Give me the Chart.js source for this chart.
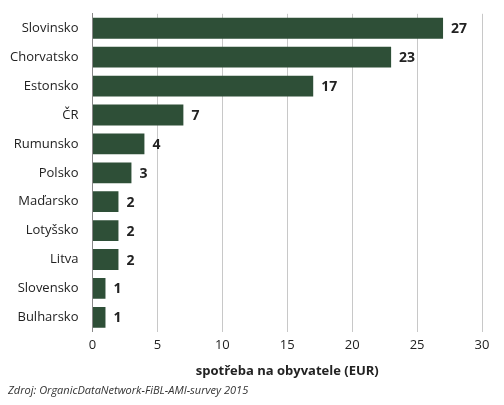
<!DOCTYPE html>
<html>
<head>
<meta charset="utf-8">
<script src="https://cdn.jsdelivr.net/npm/chart.js@4"></script>
<style>
  body { margin: 0; background: #fff; }
  #wrap { width: 504px; height: 405px; position: relative; }
</style>
</head>
<body>
<div id="wrap"><canvas id="c"></canvas></div>
<script>
var countries = ['Slovinsko', 'Chorvatsko', 'Estonsko', 'ČR', 'Rumunsko', 'Polsko',
  'Maďarsko', 'Lotyšsko', 'Litva', 'Slovensko', 'Bulharsko'];
var spending = [27, 23, 17, 7, 4, 3, 2, 2, 2, 1, 1];
var xTicks = [0, 5, 10, 15, 20, 25, 30];

// value labels next to bars + source line at the bottom
var extras = {
  id: 'extras',
  afterDatasetsDraw: function (chart) {
    var ctx = chart.ctx;
    var meta = chart.getDatasetMeta(0);
    ctx.save();
    ctx.fillStyle = '#222';
    ctx.font = 'bold 14px "Open Sans"';
    ctx.textBaseline = 'middle';
    meta.data.forEach(function (bar, i) {
      ctx.fillText(spending[i], bar.x + 8, bar.y + 1);
    });
    ctx.font = 'italic 11px "Open Sans"';
    ctx.fillStyle = '#333';
    ctx.textBaseline = 'alphabetic';
    ctx.fillText('Zdroj: OrganicDataNetwork-FiBL-AMI-survey 2015', 8, 394);
    ctx.restore();
  }
};

new Chart(document.getElementById('c'), {
  type: 'bar',
  data: {
    labels: countries,
    datasets: [{
      data: spending,
      backgroundColor: '#2e4f37',
      barPercentage: 0.72,
      categoryPercentage: 1
    }]
  },
  options: {
    indexAxis: 'y',
    responsive: true,
    maintainAspectRatio: false,
    animation: false,
    layout: { padding: { top: 5, right: 22, bottom: 22, left: 4 } },
    plugins: { legend: { display: false }, tooltip: { enabled: false } },
    scales: {
      x: {
        min: 0, max: 30,
        afterBuildTicks: function (s) { s.ticks = xTicks.map(function (v) { return { value: v }; }); },
        grid: { color: '#c8c8c8', drawTicks: false },
        border: { display: false },
        ticks: { color: '#222', font: { size: 13, family: '"Open Sans"' }, padding: 6 },
        title: { display: true, text: 'spotřeba na obyvatele (EUR)', color: '#222',
          font: { size: 13, weight: 'bold', family: '"Open Sans"' }, padding: { top: 4 } }
      },
      y: {
        grid: { display: false },
        border: { color: '#888' },
        ticks: { color: '#222', font: { size: 13, family: '"Open Sans"' }, padding: 6 }
      }
    }
  },
  plugins: [extras]
});
</script>
</body>
</html>
